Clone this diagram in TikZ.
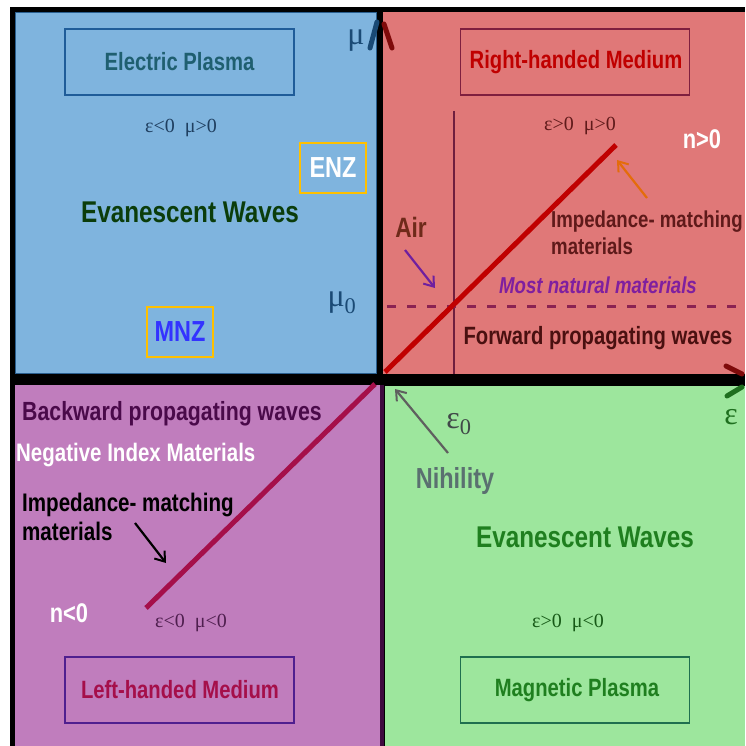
\documentclass[tikz,border=0pt]{standalone}
\usepackage{fontspec}
\setmainfont{Liberation Sans}[FakeStretch=0.81]
\newfontfamily\serf{Liberation Serif}
\usetikzlibrary{arrows.meta}
\definecolor{blueQ}{HTML}{7FB4DE}
\definecolor{blueB}{HTML}{2A5F8F}
\definecolor{redQ}{HTML}{E07878}
\definecolor{purpQ}{HTML}{C07DBD}
\definecolor{greenQ}{HTML}{9DE69D}
\definecolor{epTxt}{HTML}{1F5F70}
\definecolor{epBox}{HTML}{1F5C99}
\definecolor{navy}{HTML}{1F3F60}
\definecolor{dkgreen}{HTML}{0B3D0B}
\definecolor{gold}{HTML}{FFC000}
\definecolor{mnzblue}{HTML}{3333FF}
\definecolor{muBlue}{HTML}{1A4A75}
\definecolor{rhBox}{HTML}{7F1F3F}
\definecolor{rhTxt}{HTML}{C00000}
\definecolor{maroon}{HTML}{5F1A1A}
\definecolor{vlineC}{HTML}{6F1F3F}
\definecolor{dashC}{HTML}{8B2252}
\definecolor{natPurp}{HTML}{7F1F9F}
\definecolor{arrOrange}{HTML}{E46C0A}
\definecolor{arrPurp}{HTML}{6F1F9F}
\definecolor{airBrown}{HTML}{6F2A1A}
\definecolor{fwd}{HTML}{4A1010}
\definecolor{bwd}{HTML}{4A0A4A}
\definecolor{crim}{HTML}{A50F4A}
\definecolor{lhBox}{HTML}{4F1F8F}
\definecolor{purpTxt}{HTML}{4F1F4F}
\definecolor{darkPurpStrip}{HTML}{3F0A3F}
\definecolor{grayArr}{HTML}{5F5F5F}
\definecolor{epsZero}{HTML}{404848}
\definecolor{nihil}{HTML}{5A7070}
\definecolor{gTxt}{HTML}{1F7F1F}
\definecolor{mpBox}{HTML}{1F6F4F}
\definecolor{axRed}{HTML}{7F0A0A}
\definecolor{axGreen}{HTML}{1F6F1F}
\newcommand\fsz[1]{\fontsize{#1}{#1}\selectfont}
\tikzset{
  lbl/.style={inner sep=0pt, font=\bfseries\fsz{#1}},
  sertxt/.style={inner sep=0pt, font=\serf\fsz{#1}},
  medbox/.style={draw, line width=1.5pt, minimum width=229pt, minimum height=66pt, inner sep=0pt},
  zbox/.style={draw=gold, line width=2pt, minimum width=66pt, minimum height=50pt, inner sep=0pt},
  barb/.style={-{Straight Barb[length=9pt,width=13pt,line width=2pt]}, line width=2.2pt},
  axhead/.style={line width=5pt, line cap=round},
}
\begin{document}
\begin{tikzpicture}[x=1pt,y=-1pt]
\useasboundingbox (0,0) rectangle (745,746);
% background & quadrants
\fill[black] (10,7) rectangle (745,746);
\fill[blueQ] (15,12) rectangle (377,374);
\draw[blueB, line width=1pt] (15.5,12.5) rectangle (376.5,373.5);
\fill[redQ] (383,12) rectangle (745,374);
\fill[purpQ] (15,385) rectangle (380,746);
\fill[darkPurpStrip] (380,385) rectangle (384,746);
\fill[greenQ] (385,386) rectangle (745,746);

% axis heads
\coordinate (muL) at (370,48);
\coordinate (muT) at (377,22);
\coordinate (muT2) at (384,24);
\coordinate (muR) at (392,48);
\draw[axhead, muBlue] (muL) -- (muT);
\draw[axhead, axRed] (muT2) -- (muR);
\coordinate (epU) at (726,366);
\coordinate (epUR) at (742,374);
\coordinate (epDR) at (742,387);
\coordinate (epD) at (727,396);
\draw[axhead, axRed] (epU) -- (epUR);
\draw[axhead, axGreen] (epD) -- (epDR);

% top-left
\node[medbox, draw=epBox] (ep) at (179.5,62) {};
\node[lbl=25, text=epTxt] (eptxt) at (179.5,62) {Electric Plasma};
\node[sertxt=20, text=navy] (c1) at (181,128) {ε<0\ \ μ>0};
\node[zbox] (enz) at (333,168) {};
\node[lbl=29, text=white] (enztxt) at (333,168) {ENZ};
\node[lbl=30, text=dkgreen] (ev1) at (190,212) {Evanescent Waves};
\node[zbox] (mnz) at (180,331.5) {};
\node[lbl=29, text=mnzblue] (mnztxt) at (180,331.5) {MNZ};
\node[sertxt=32, text=muBlue] (mu0) at (342,303) {μ\textsubscript{0}};
\node[sertxt=32, text=muBlue] (mu) at (356,41) {μ};

% top-right
\node[medbox, draw=rhBox] (rh) at (575,62) {};
\node[lbl=25, text=rhTxt] (rhtxt) at (576,62) {Right-handed Medium};
\draw[vlineC, line width=2pt] (454,111) -- (454,374);
\draw[dashC, line width=3pt, dash pattern=on 9pt off 11pt] (387,306) -- (745,306);
\draw[rhTxt, line width=5pt] (385,372) -- (616,145);
\node[sertxt=20, text=maroon] (c2) at (580,126) {ε>0\ \ μ>0};
\node[lbl=27, text=white] (npos) at (702,139) {n>0};
\node[lbl=23, text=maroon, anchor=west, align=left] (imp1) at (551,233) {Impedance- matching\\[4pt]materials};
\coordinate (oa1) at (647,198);
\coordinate (oa2) at (617,160);
\draw[barb, arrOrange] (oa1) -- (oa2);
\node[lbl=28, text=airBrown] (air) at (411,227) {Air};
\coordinate (pa1) at (405,250);
\coordinate (pa2) at (435,288);
\draw[barb, arrPurp] (pa1) -- (pa2);
\node[inner sep=0pt, font=\bfseries\itshape\fsz{23}, text=natPurp] (nat) at (598,285) {Most natural materials};
\node[lbl=25, text=fwd] (fw) at (598,338) {Forward propagating waves};

% bottom-left
\node[lbl=26.3, text=bwd, anchor=west] (bw) at (22,414) {Backward propagating waves};
\node[lbl=25.3, text=white, anchor=west] (nim) at (16,455) {Negative Index Materials};
\node[lbl=25.4, text=black, anchor=west, align=left] (imp2) at (22,517) {Impedance- matching\\[4pt]materials};
\coordinate (ba1) at (135,523);
\coordinate (ba2) at (166,563);
\draw[barb, black] (ba1) -- (ba2);
\draw[crim, line width=5pt] (146,608) -- (375,384);
\node[lbl=27, text=white] (nneg) at (69,613) {n<0};
\node[sertxt=20, text=purpTxt] (c3) at (191,623) {ε<0\ \ μ<0};
\node[medbox, draw=lhBox] (lh) at (179.5,690) {};
\node[lbl=25, text=crim] (lhtxt) at (180,690) {Left-handed Medium};

% bottom-right
\coordinate (ga1) at (448,453);
\coordinate (ga2) at (395,389);
\draw[barb, grayArr] (ga1) -- (ga2);
\node[sertxt=32, text=epsZero] (eps0) at (459,424) {ε\textsubscript{0}};
\node[lbl=29, text=nihil] (nih) at (455,481) {Nihility};
\node[lbl=30, text=gTxt] (ev2) at (585,537) {Evanescent Waves};
\node[sertxt=20, text=gTxt!70!black] (c4) at (568,623) {ε>0\ \ μ<0};
\node[medbox, draw=mpBox] (mp) at (575,690) {};
\node[lbl=25, text=gTxt] (mptxt) at (577,690) {Magnetic Plasma};
\node[sertxt=32, text=axGreen] (eps) at (731,417) {ε};
\end{tikzpicture}
\end{document}
